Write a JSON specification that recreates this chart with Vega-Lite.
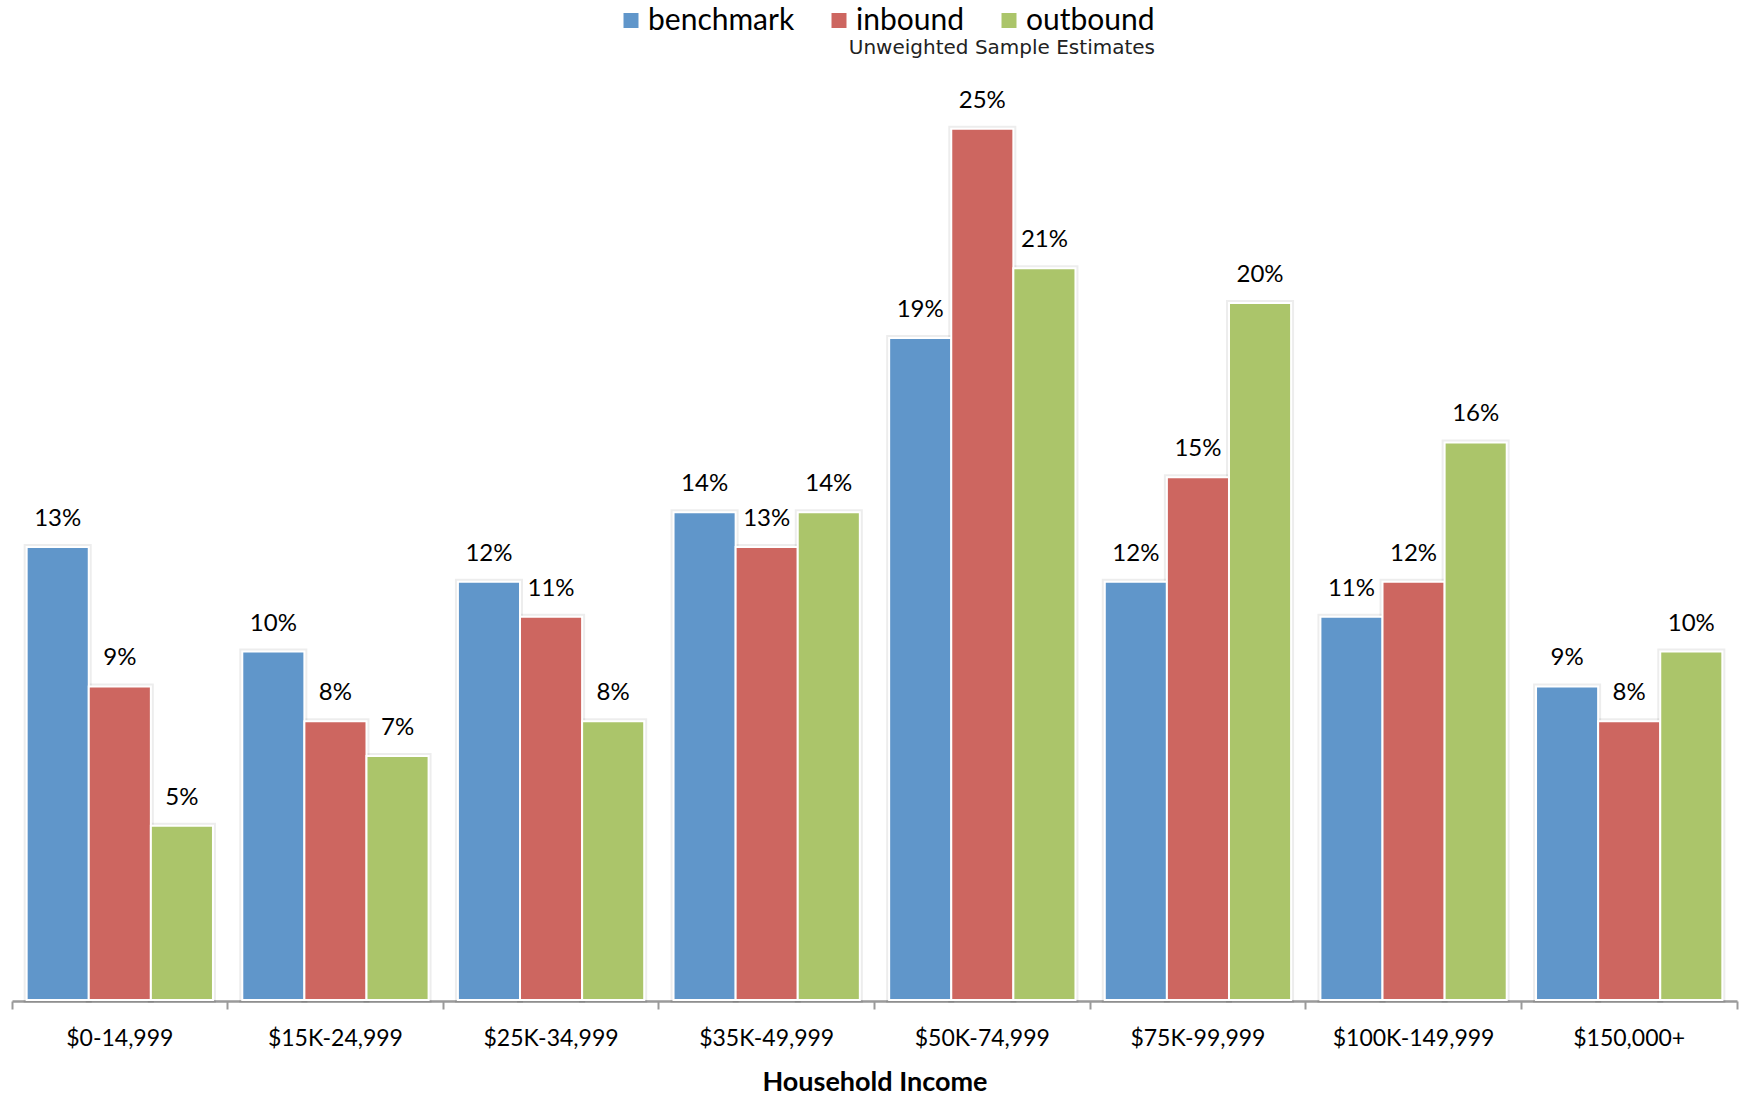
{
  "$schema": "https://vega.github.io/schema/vega-lite/v6.json",
  "width": 1725,
  "height": 906,
  "autosize": {"type": "none"},
  "padding": {"left": 12, "top": 94, "right": 9, "bottom": 95},
  "background": "white",
  "config": {"view": {"stroke": null}},
  "data": {
    "values": [
      {"income": "$0-14,999", "series": "benchmark", "pct": 0.13},
      {"income": "$0-14,999", "series": "inbound", "pct": 0.09},
      {"income": "$0-14,999", "series": "outbound", "pct": 0.05},
      {"income": "$15K-24,999", "series": "benchmark", "pct": 0.10},
      {"income": "$15K-24,999", "series": "inbound", "pct": 0.08},
      {"income": "$15K-24,999", "series": "outbound", "pct": 0.07},
      {"income": "$25K-34,999", "series": "benchmark", "pct": 0.12},
      {"income": "$25K-34,999", "series": "inbound", "pct": 0.11},
      {"income": "$25K-34,999", "series": "outbound", "pct": 0.08},
      {"income": "$35K-49,999", "series": "benchmark", "pct": 0.14},
      {"income": "$35K-49,999", "series": "inbound", "pct": 0.13},
      {"income": "$35K-49,999", "series": "outbound", "pct": 0.14},
      {"income": "$50K-74,999", "series": "benchmark", "pct": 0.19},
      {"income": "$50K-74,999", "series": "inbound", "pct": 0.25},
      {"income": "$50K-74,999", "series": "outbound", "pct": 0.21},
      {"income": "$75K-99,999", "series": "benchmark", "pct": 0.12},
      {"income": "$75K-99,999", "series": "inbound", "pct": 0.15},
      {"income": "$75K-99,999", "series": "outbound", "pct": 0.20},
      {"income": "$100K-149,999", "series": "benchmark", "pct": 0.11},
      {"income": "$100K-149,999", "series": "inbound", "pct": 0.12},
      {"income": "$100K-149,999", "series": "outbound", "pct": 0.16},
      {"income": "$150,000+", "series": "benchmark", "pct": 0.09},
      {"income": "$150,000+", "series": "inbound", "pct": 0.08},
      {"income": "$150,000+", "series": "outbound", "pct": 0.10}
    ]
  },
  "encoding": {
    "x": {
      "field": "income",
      "type": "nominal",
      "sort": null,
      "title": "Household Income",
      "scale": {"paddingInner": 0, "paddingOuter": 0},
      "axis": {
        "offset": 1,
        "bandPosition": 1,
        "tickExtra": true,
        "labelOffset": 0,
        "labelAngle": 0,
        "labelFont": "Lato",
        "labelFontSize": 23,
        "labelColor": "#000000",
        "labelPadding": 18,
        "tickSize": 8,
        "tickWidth": 2,
        "tickColor": "#9a9a9a",
        "domainColor": "#9a9a9a",
        "domainWidth": 2.5,
        "grid": false,
        "titleFont": "Lato",
        "titleFontSize": 27,
        "titleFontWeight": "bold",
        "titleColor": "#000000",
        "titlePadding": 19
      }
    },
    "xOffset": {
      "field": "series",
      "type": "nominal",
      "sort": ["benchmark", "inbound", "outbound"],
      "scale": {"paddingInner": 0, "paddingOuter": 0.236}
    },
    "y": {
      "field": "pct",
      "type": "quantitative",
      "scale": {"domain": [0, 0.26], "nice": false, "zero": true},
      "axis": null
    }
  },
  "layer": [
    {
      "mark": {"type": "bar", "stroke": "#000000", "strokeOpacity": 0.07, "strokeWidth": 6},
      "encoding": {}
    },
    {
      "mark": {"type": "bar", "stroke": "white", "strokeWidth": 2},
      "encoding": {
        "color": {
          "field": "series",
          "type": "nominal",
          "scale": {
            "domain": ["benchmark", "inbound", "outbound"],
            "range": ["#6096CA", "#CD6660", "#ABC56A"]
          },
          "legend": {
            "title": "Unweighted Sample Estimates",
            "orient": "none",
            "legendX": 604,
            "legendY": -88.5,
            "direction": "horizontal",
            "padding": 0,
            "symbolType": "square",
            "symbolSize": 225,
            "symbolStrokeWidth": 0,
            "symbolOpacity": 1,
            "labelFont": "Lato",
            "labelFontSize": 30,
            "labelColor": "#000000",
            "labelOffset": 2,
            "columnPadding": 29,
            "titleOrient": "bottom",
            "titleAnchor": "end",
            "titleFont": "DejaVu Sans",
            "titleFontSize": 20,
            "titleFontWeight": "normal",
            "titleColor": "#222222",
            "titlePadding": 2,
            "titleLimit": 600
          }
        }
      }
    },
    {
      "mark": {
        "type": "text",
        "baseline": "alphabetic",
        "dy": -21,
        "font": "Lato",
        "fontSize": 24,
        "color": "#000000"
      },
      "encoding": {
        "text": {"field": "pct", "type": "quantitative", "format": ".0%"}
      }
    }
  ]
}
